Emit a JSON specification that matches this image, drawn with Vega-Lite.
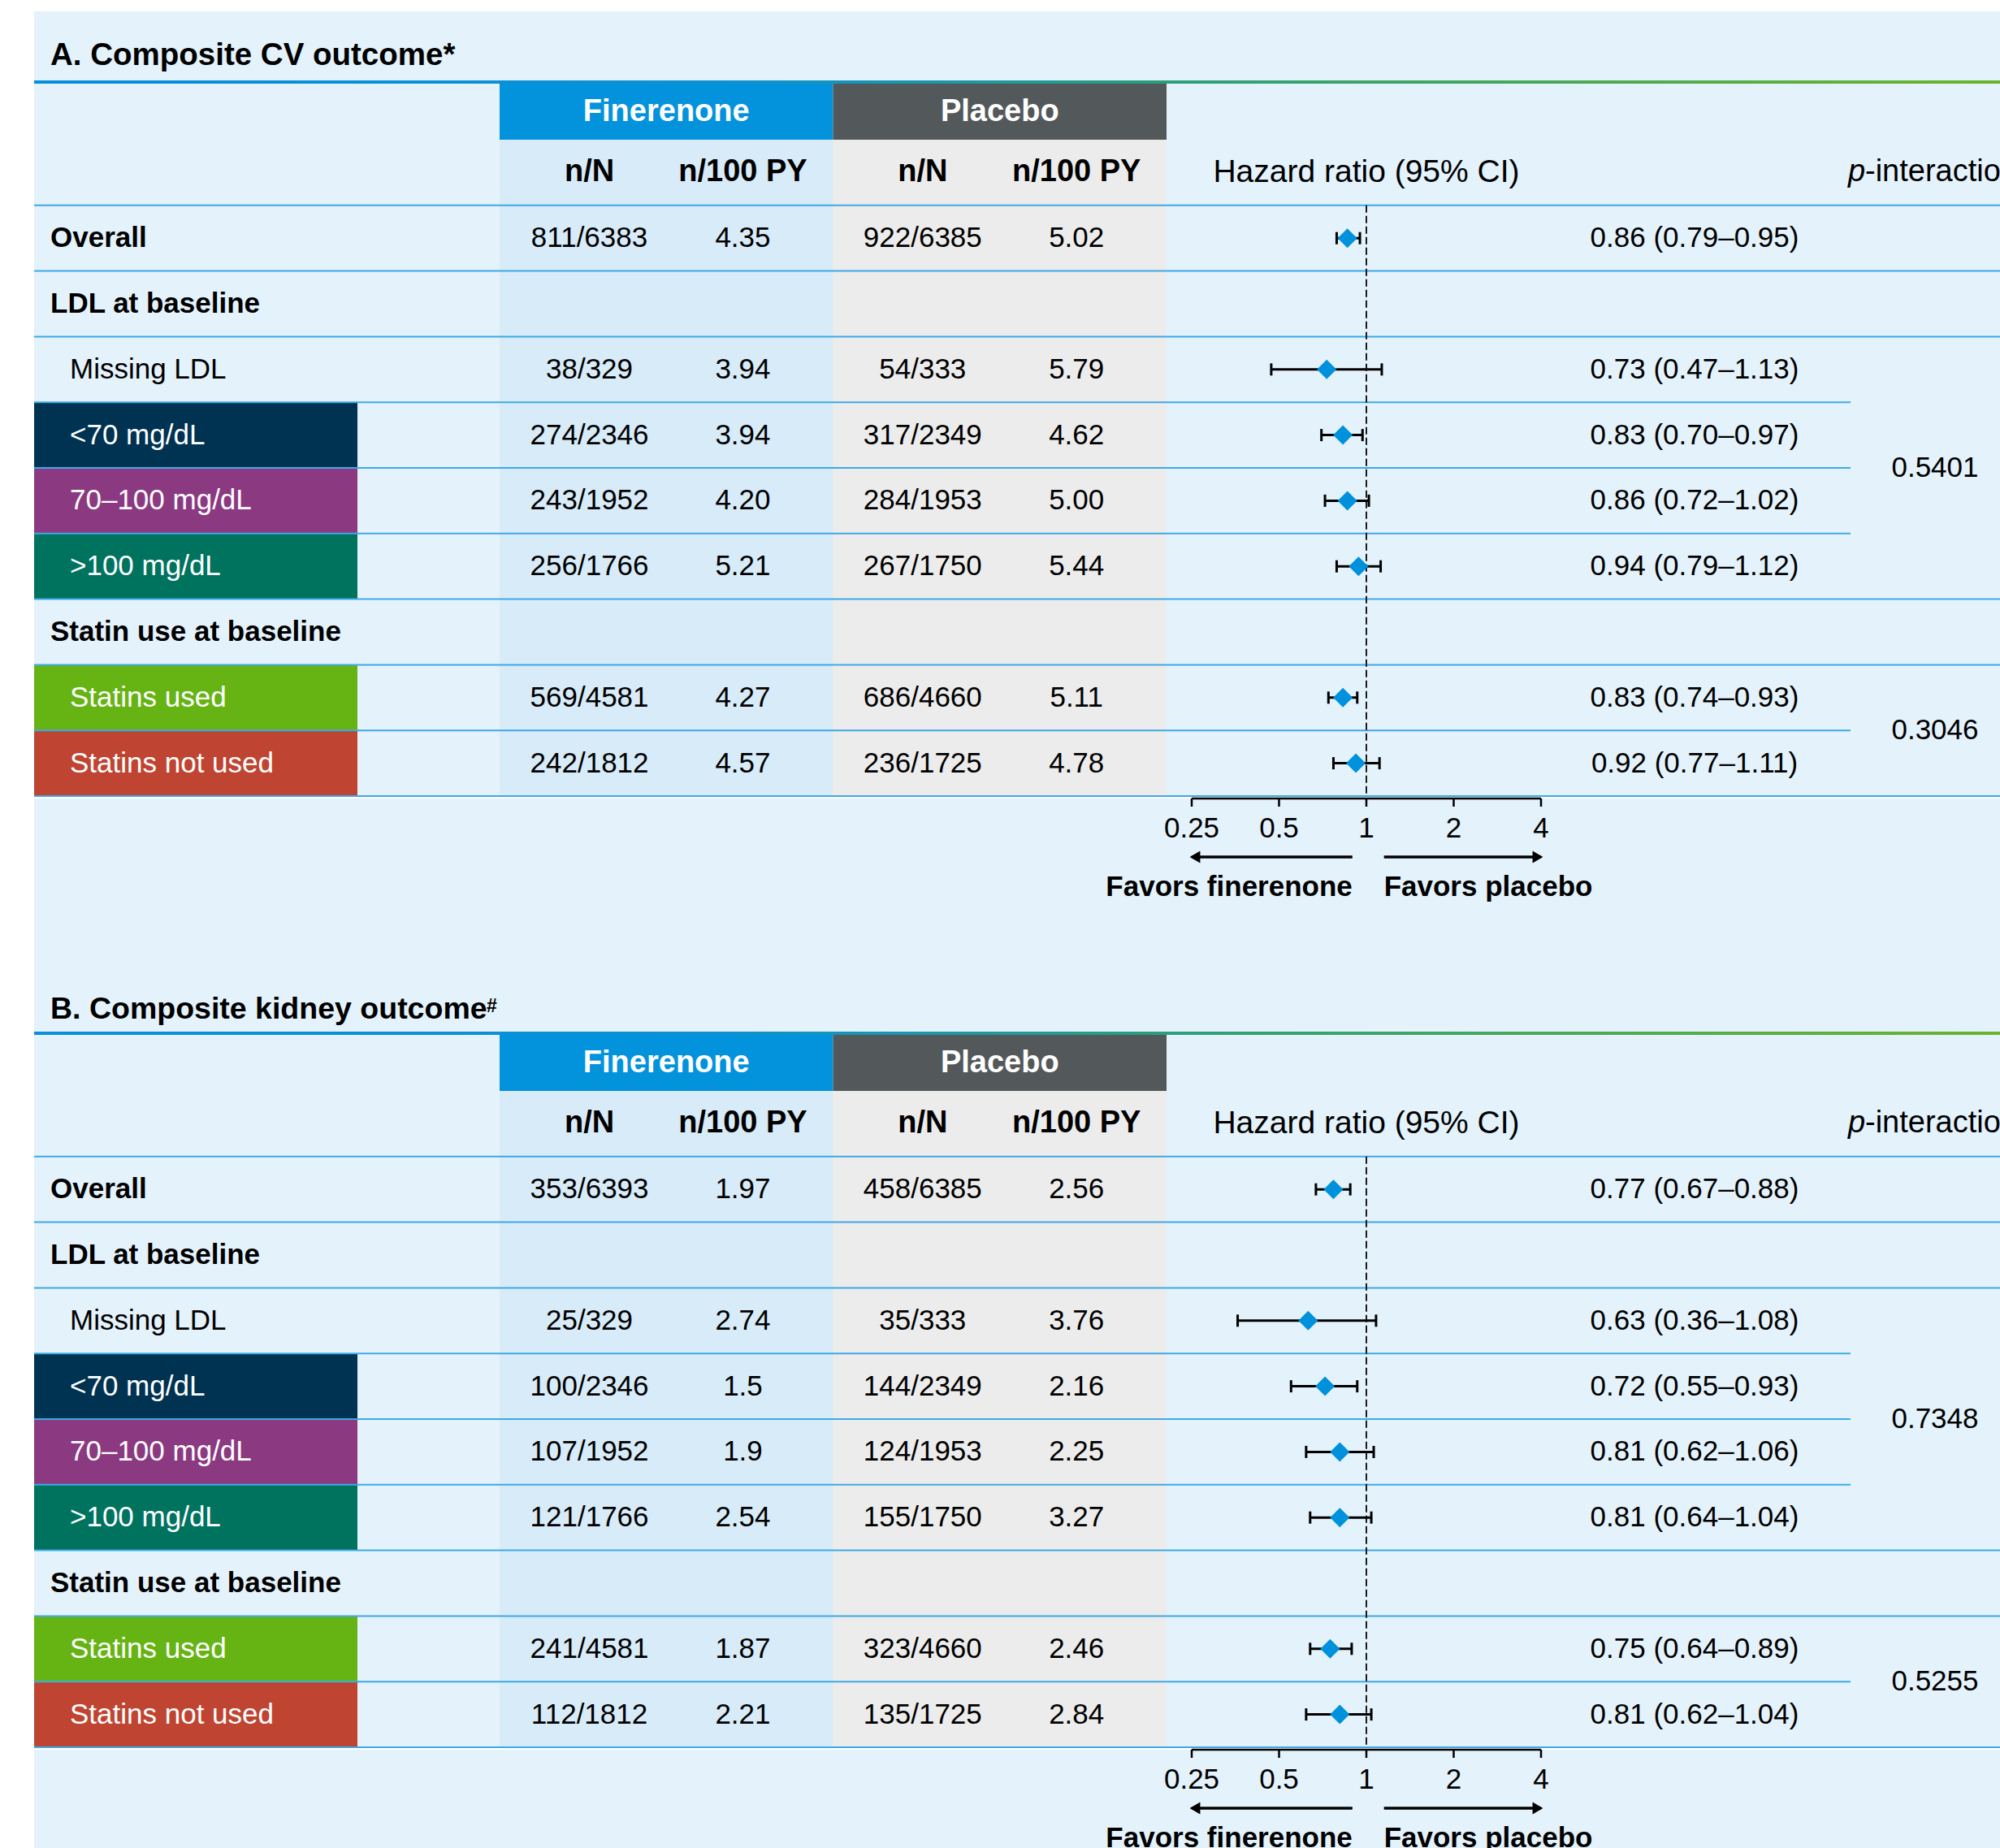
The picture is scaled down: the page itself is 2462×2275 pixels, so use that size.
{
  "$schema": "https://vega.github.io/schema/vega-lite/v6.json",
  "background": "#ffffff",
  "padding": {"left": 41, "top": 14, "right": 0, "bottom": 0},
  "spacing": 0,
  "resolve": {"scale": {"color": "independent"}},
  "config": {
    "view": {"stroke": null, "fill": "#e4f2fb"},
    "font": "Liberation Sans",
    "text": {"font": "Liberation Sans", "fontSize": 35, "baseline": "middle", "color": "#000000"},
    "axis": {"labelFont": "Liberation Sans"}
  },
  "datasets": {
    "rows": [
      {"panel": "A", "row": "header", "level": "header"},
      {"panel": "A", "row": "Overall", "level": "group", "fin_n": "811/6383", "fin_py": "4.35", "pla_n": "922/6385", "pla_py": "5.02", "hr": 0.86, "lo": 0.79, "hi": 0.95},
      {"panel": "A", "row": "LDL at baseline", "level": "group"},
      {"panel": "A", "row": "Missing LDL", "level": "sub", "fin_n": "38/329", "fin_py": "3.94", "pla_n": "54/333", "pla_py": "5.79", "hr": 0.73, "lo": 0.47, "hi": 1.13},
      {"panel": "A", "row": "<70 mg/dL", "level": "sub", "fin_n": "274/2346", "fin_py": "3.94", "pla_n": "317/2349", "pla_py": "4.62", "hr": 0.83, "lo": 0.70, "hi": 0.97},
      {"panel": "A", "row": "70–100 mg/dL", "level": "sub", "fin_n": "243/1952", "fin_py": "4.20", "pla_n": "284/1953", "pla_py": "5.00", "hr": 0.86, "lo": 0.72, "hi": 1.02},
      {"panel": "A", "row": ">100 mg/dL", "level": "sub", "fin_n": "256/1766", "fin_py": "5.21", "pla_n": "267/1750", "pla_py": "5.44", "hr": 0.94, "lo": 0.79, "hi": 1.12},
      {"panel": "A", "row": "Statin use at baseline", "level": "group"},
      {"panel": "A", "row": "Statins used", "level": "sub", "fin_n": "569/4581", "fin_py": "4.27", "pla_n": "686/4660", "pla_py": "5.11", "hr": 0.83, "lo": 0.74, "hi": 0.93},
      {"panel": "A", "row": "Statins not used", "level": "sub", "fin_n": "242/1812", "fin_py": "4.57", "pla_n": "236/1725", "pla_py": "4.78", "hr": 0.92, "lo": 0.77, "hi": 1.11},
      {"panel": "B", "row": "header", "level": "header"},
      {"panel": "B", "row": "Overall", "level": "group", "fin_n": "353/6393", "fin_py": "1.97", "pla_n": "458/6385", "pla_py": "2.56", "hr": 0.77, "lo": 0.67, "hi": 0.88},
      {"panel": "B", "row": "LDL at baseline", "level": "group"},
      {"panel": "B", "row": "Missing LDL", "level": "sub", "fin_n": "25/329", "fin_py": "2.74", "pla_n": "35/333", "pla_py": "3.76", "hr": 0.63, "lo": 0.36, "hi": 1.08},
      {"panel": "B", "row": "<70 mg/dL", "level": "sub", "fin_n": "100/2346", "fin_py": "1.5", "pla_n": "144/2349", "pla_py": "2.16", "hr": 0.72, "lo": 0.55, "hi": 0.93},
      {"panel": "B", "row": "70–100 mg/dL", "level": "sub", "fin_n": "107/1952", "fin_py": "1.9", "pla_n": "124/1953", "pla_py": "2.25", "hr": 0.81, "lo": 0.62, "hi": 1.06},
      {"panel": "B", "row": ">100 mg/dL", "level": "sub", "fin_n": "121/1766", "fin_py": "2.54", "pla_n": "155/1750", "pla_py": "3.27", "hr": 0.81, "lo": 0.64, "hi": 1.04},
      {"panel": "B", "row": "Statin use at baseline", "level": "group"},
      {"panel": "B", "row": "Statins used", "level": "sub", "fin_n": "241/4581", "fin_py": "1.87", "pla_n": "323/4660", "pla_py": "2.46", "hr": 0.75, "lo": 0.64, "hi": 0.89},
      {"panel": "B", "row": "Statins not used", "level": "sub", "fin_n": "112/1812", "fin_py": "2.21", "pla_n": "135/1725", "pla_py": "2.84", "hr": 0.81, "lo": 0.62, "hi": 1.04}
    ],
    "pvals": [
      {"panel": "A", "at": "70–100 mg/dL", "p": "0.5401"},
      {"panel": "A", "at": "Statins not used", "p": "0.3046"},
      {"panel": "B", "at": "70–100 mg/dL", "p": "0.7348"},
      {"panel": "B", "at": "Statins not used", "p": "0.5255"}
    ],
    "titles": [
      {"panel": "A", "title": "A. Composite CV outcome*", "note": ""},
      {"panel": "B", "title": "B. Composite kidney outcome", "note": "#"}
    ],
    "stats": [{"stat": "n/N"}, {"stat": "n/100 PY"}],
    "heads": [
      {"key": "hr", "text": "Hazard ratio (95% CI)"},
      {"key": "p1", "text": "p"},
      {"key": "p2", "text": "-interaction"}
    ],
    "arms": [{"arm": "Finerenone"}, {"arm": "Placebo"}],
    "arrows": [
      {"side": "finerenone", "from": 0.895, "to": 0.25, "label": "Favors finerenone"},
      {"side": "placebo", "from": 1.15, "to": 4, "label": "Favors placebo"}
    ],
    "ticks": [
      {"v": 0.25, "t": "0.25"},
      {"v": 0.5, "t": "0.5"},
      {"v": 1, "t": "1"},
      {"v": 2, "t": "2"},
      {"v": 4, "t": "4"}
    ],
    "ref": [{"hr": 1}]
  },
  "vconcat": [
    {
      "width": 2444, "height": 85,
      "data": {"name": "titles"},
      "transform": [{"filter": "datum.panel === 'A'"}],
      "mark": {"type": "text", "align": "left", "baseline": "alphabetic", "fontSize": 38.5, "fontWeight": "bold", "dy": 23.5},
      "encoding": {
        "x": {"datum": "group", "type": "nominal", "scale": {"type": "point", "domain": ["group", "sub"], "range": [20, 44], "padding": 0}, "axis": null},
        "text": {"field": "title"}
      }
    },
    {
      "width": 2444, "height": 4,
      "data": {"values": [{}]},
      "mark": {"type": "rect", "fill": {"gradient": "linear", "x1": 0, "x2": 1, "y1": 0, "y2": 0, "stops": [{"offset": 0, "color": "#078fdc"}, {"offset": 0.35, "color": "#0e91d0"}, {"offset": 0.56, "color": "#2a9e7e"}, {"offset": 1, "color": "#6bb52a"}]}}
    },
    {
      "width": 2444, "height": 69,
      "data": {"name": "arms"},
      "layer": [
        {"transform": [{"filter": "datum.arm === 'Finerenone'"}], "mark": {"type": "rect", "fill": "#0392dc"}, "encoding": {"x": {"field": "arm", "type": "nominal", "scale": {"type": "band", "domain": ["Finerenone", "Placebo"], "range": [573, 1394], "paddingInner": 0, "paddingOuter": 0}, "axis": null}}},
        {"transform": [{"filter": "datum.arm === 'Placebo'"}], "mark": {"type": "rect", "fill": "#53585b"}, "encoding": {"x": {"field": "arm", "type": "nominal", "scale": {"type": "band", "domain": ["Finerenone", "Placebo"], "range": [573, 1394], "paddingInner": 0, "paddingOuter": 0}, "axis": null}}},
        {"mark": {"type": "text", "fontWeight": "bold", "fontSize": 38, "color": "#ffffff"}, "encoding": {"x": {"field": "arm", "type": "nominal", "scale": {"type": "band", "domain": ["Finerenone", "Placebo"], "range": [573, 1394], "paddingInner": 0, "paddingOuter": 0}, "axis": null}, "text": {"field": "arm"}}}
      ]
    },
    {
      "spacing": 0, "bounds": "flush",
      "resolve": {"scale": {"color": "independent"}},
      "hconcat": [
        {
          "width": 398, "height": 808,
          "layer": [
            {"data": {"name": "rows"}, "transform": [{"filter": "datum.panel === 'A'"}, {"filter": {"field": "row", "oneOf": ["<70 mg/dL", "70–100 mg/dL", ">100 mg/dL", "Statins used", "Statins not used"]}}], "mark": {"type": "rect"}, "encoding": {"y": {"field": "row", "type": "nominal", "scale": {"type": "band", "domain": ["header", "Overall", "LDL at baseline", "Missing LDL", "<70 mg/dL", "70–100 mg/dL", ">100 mg/dL", "Statin use at baseline", "Statins used", "Statins not used"], "paddingInner": 0, "paddingOuter": 0}, "axis": null}, "color": {"field": "row", "type": "nominal", "scale": {"domain": ["<70 mg/dL", "70–100 mg/dL", ">100 mg/dL", "Statins used", "Statins not used"], "range": ["#003351", "#8b3a81", "#00735f", "#66b414", "#bf4431"]}, "legend": null}}},
            {"data": {"name": "rows"}, "transform": [{"filter": "datum.panel === 'A'"}], "mark": {"type": "rule", "color": "#3ea9e5", "strokeWidth": 2}, "encoding": {"y": {"field": "row", "type": "nominal", "bandPosition": 1, "scale": {"type": "band", "domain": ["header", "Overall", "LDL at baseline", "Missing LDL", "<70 mg/dL", "70–100 mg/dL", ">100 mg/dL", "Statin use at baseline", "Statins used", "Statins not used"], "paddingInner": 0, "paddingOuter": 0}, "axis": null}}},
            {"data": {"name": "rows"}, "transform": [{"filter": "datum.panel === 'A' && datum.level === 'group'"}], "mark": {"type": "text", "align": "left", "fontWeight": "bold"}, "encoding": {"x": {"field": "level", "type": "nominal", "scale": {"type": "point", "domain": ["group", "sub"], "range": [20, 44], "padding": 0}, "axis": null}, "y": {"field": "row", "type": "nominal", "scale": {"type": "band", "domain": ["header", "Overall", "LDL at baseline", "Missing LDL", "<70 mg/dL", "70–100 mg/dL", ">100 mg/dL", "Statin use at baseline", "Statins used", "Statins not used"], "paddingInner": 0, "paddingOuter": 0}, "axis": null}, "text": {"field": "row"}}},
            {"data": {"name": "rows"}, "transform": [{"filter": "datum.panel === 'A' && datum.level === 'sub'"}], "mark": {"type": "text", "align": "left"}, "encoding": {"x": {"field": "level", "type": "nominal", "scale": {"type": "point", "domain": ["group", "sub"], "range": [20, 44], "padding": 0}, "axis": null}, "y": {"field": "row", "type": "nominal", "scale": {"type": "band", "domain": ["header", "Overall", "LDL at baseline", "Missing LDL", "<70 mg/dL", "70–100 mg/dL", ">100 mg/dL", "Statin use at baseline", "Statins used", "Statins not used"], "paddingInner": 0, "paddingOuter": 0}, "axis": null}, "text": {"field": "row"}, "color": {"condition": {"test": "datum.row === 'Missing LDL'", "value": "#000000"}, "value": "#ffffff"}}}
          ]
        },
        {
          "width": 175, "height": 808,
          "data": {"name": "rows"}, "transform": [{"filter": "datum.panel === 'A'"}],
          "mark": {"type": "rule", "color": "#3ea9e5", "strokeWidth": 2},
          "encoding": {"y": {"field": "row", "type": "nominal", "bandPosition": 1, "scale": {"type": "band", "domain": ["header", "Overall", "LDL at baseline", "Missing LDL", "<70 mg/dL", "70–100 mg/dL", ">100 mg/dL", "Statin use at baseline", "Statins used", "Statins not used"], "paddingInner": 0, "paddingOuter": 0}, "axis": null}}
        },
        {
          "width": 410, "height": 808, "view": {"fill": "#d8ebf8"},
          "layer": [
            {"data": {"name": "rows"}, "transform": [{"filter": "datum.panel === 'A'"}], "mark": {"type": "rule", "color": "#3ea9e5", "strokeWidth": 2}, "encoding": {"y": {"field": "row", "type": "nominal", "bandPosition": 1, "scale": {"type": "band", "domain": ["header", "Overall", "LDL at baseline", "Missing LDL", "<70 mg/dL", "70–100 mg/dL", ">100 mg/dL", "Statin use at baseline", "Statins used", "Statins not used"], "paddingInner": 0, "paddingOuter": 0}, "axis": null}}},
            {"data": {"name": "stats"}, "mark": {"type": "text", "fontWeight": "bold", "fontSize": 38}, "encoding": {"x": {"field": "stat", "type": "nominal", "scale": {"type": "point", "domain": ["n/N", "n/100 PY"], "padding": 0.585}, "axis": null}, "y": {"datum": "header", "type": "nominal", "scale": {"type": "band", "domain": ["header", "Overall", "LDL at baseline", "Missing LDL", "<70 mg/dL", "70–100 mg/dL", ">100 mg/dL", "Statin use at baseline", "Statins used", "Statins not used"], "paddingInner": 0, "paddingOuter": 0}, "axis": null}, "text": {"field": "stat"}}},
            {"data": {"name": "rows"}, "transform": [{"filter": "datum.panel === 'A' && isValid(datum.fin_n)"}], "mark": {"type": "text"}, "encoding": {"x": {"datum": "n/N", "type": "nominal", "scale": {"type": "point", "domain": ["n/N", "n/100 PY"], "padding": 0.585}, "axis": null}, "y": {"field": "row", "type": "nominal", "scale": {"type": "band", "domain": ["header", "Overall", "LDL at baseline", "Missing LDL", "<70 mg/dL", "70–100 mg/dL", ">100 mg/dL", "Statin use at baseline", "Statins used", "Statins not used"], "paddingInner": 0, "paddingOuter": 0}, "axis": null}, "text": {"field": "fin_n"}}},
            {"data": {"name": "rows"}, "transform": [{"filter": "datum.panel === 'A' && isValid(datum.fin_py)"}], "mark": {"type": "text"}, "encoding": {"x": {"datum": "n/100 PY", "type": "nominal", "scale": {"type": "point", "domain": ["n/N", "n/100 PY"], "padding": 0.585}, "axis": null}, "y": {"field": "row", "type": "nominal", "scale": {"type": "band", "domain": ["header", "Overall", "LDL at baseline", "Missing LDL", "<70 mg/dL", "70–100 mg/dL", ">100 mg/dL", "Statin use at baseline", "Statins used", "Statins not used"], "paddingInner": 0, "paddingOuter": 0}, "axis": null}, "text": {"field": "fin_py"}}}
          ]
        },
        {
          "width": 411, "height": 808, "view": {"fill": "#ececec"},
          "layer": [
            {"data": {"name": "rows"}, "transform": [{"filter": "datum.panel === 'A'"}], "mark": {"type": "rule", "color": "#3ea9e5", "strokeWidth": 2}, "encoding": {"y": {"field": "row", "type": "nominal", "bandPosition": 1, "scale": {"type": "band", "domain": ["header", "Overall", "LDL at baseline", "Missing LDL", "<70 mg/dL", "70–100 mg/dL", ">100 mg/dL", "Statin use at baseline", "Statins used", "Statins not used"], "paddingInner": 0, "paddingOuter": 0}, "axis": null}}},
            {"data": {"name": "stats"}, "mark": {"type": "text", "fontWeight": "bold", "fontSize": 38}, "encoding": {"x": {"field": "stat", "type": "nominal", "scale": {"type": "point", "domain": ["n/N", "n/100 PY"], "padding": 0.585}, "axis": null}, "y": {"datum": "header", "type": "nominal", "scale": {"type": "band", "domain": ["header", "Overall", "LDL at baseline", "Missing LDL", "<70 mg/dL", "70–100 mg/dL", ">100 mg/dL", "Statin use at baseline", "Statins used", "Statins not used"], "paddingInner": 0, "paddingOuter": 0}, "axis": null}, "text": {"field": "stat"}}},
            {"data": {"name": "rows"}, "transform": [{"filter": "datum.panel === 'A' && isValid(datum.pla_n)"}], "mark": {"type": "text"}, "encoding": {"x": {"datum": "n/N", "type": "nominal", "scale": {"type": "point", "domain": ["n/N", "n/100 PY"], "padding": 0.585}, "axis": null}, "y": {"field": "row", "type": "nominal", "scale": {"type": "band", "domain": ["header", "Overall", "LDL at baseline", "Missing LDL", "<70 mg/dL", "70–100 mg/dL", ">100 mg/dL", "Statin use at baseline", "Statins used", "Statins not used"], "paddingInner": 0, "paddingOuter": 0}, "axis": null}, "text": {"field": "pla_n"}}},
            {"data": {"name": "rows"}, "transform": [{"filter": "datum.panel === 'A' && isValid(datum.pla_py)"}], "mark": {"type": "text"}, "encoding": {"x": {"datum": "n/100 PY", "type": "nominal", "scale": {"type": "point", "domain": ["n/N", "n/100 PY"], "padding": 0.585}, "axis": null}, "y": {"field": "row", "type": "nominal", "scale": {"type": "band", "domain": ["header", "Overall", "LDL at baseline", "Missing LDL", "<70 mg/dL", "70–100 mg/dL", ">100 mg/dL", "Statin use at baseline", "Statins used", "Statins not used"], "paddingInner": 0, "paddingOuter": 0}, "axis": null}, "text": {"field": "pla_py"}}}
          ]
        },
        {
          "width": 458, "height": 808,
          "layer": [
            {"data": {"name": "rows"}, "transform": [{"filter": "datum.panel === 'A'"}], "mark": {"type": "rule", "color": "#3ea9e5", "strokeWidth": 2}, "encoding": {"y": {"field": "row", "type": "nominal", "bandPosition": 1, "scale": {"type": "band", "domain": ["header", "Overall", "LDL at baseline", "Missing LDL", "<70 mg/dL", "70–100 mg/dL", ">100 mg/dL", "Statin use at baseline", "Statins used", "Statins not used"], "paddingInner": 0, "paddingOuter": 0}, "axis": null}}},
            {"data": {"name": "ref"}, "mark": {"type": "rule", "strokeDash": [9, 4], "strokeWidth": 2, "color": "#1a1a1a"}, "encoding": {"x": {"field": "hr", "type": "quantitative", "scale": {"type": "log", "domain": [0.25, 4], "range": [31, 461], "nice": false}, "axis": null}, "y": {"datum": "Overall", "type": "nominal", "bandPosition": 0, "scale": {"type": "band", "domain": ["header", "Overall", "LDL at baseline", "Missing LDL", "<70 mg/dL", "70–100 mg/dL", ">100 mg/dL", "Statin use at baseline", "Statins used", "Statins not used"], "paddingInner": 0, "paddingOuter": 0}, "axis": null}, "y2": {"datum": "Statins not used", "bandPosition": 1}}},
            {"data": {"name": "rows"}, "transform": [{"filter": "datum.panel === 'A' && isValid(datum.hr)"}], "mark": {"type": "rule", "strokeWidth": 3, "color": "#000000"}, "encoding": {"x": {"field": "lo", "type": "quantitative", "scale": {"type": "log", "domain": [0.25, 4], "range": [31, 461], "nice": false}, "axis": null}, "x2": {"field": "hi"}, "y": {"field": "row", "type": "nominal", "scale": {"type": "band", "domain": ["header", "Overall", "LDL at baseline", "Missing LDL", "<70 mg/dL", "70–100 mg/dL", ">100 mg/dL", "Statin use at baseline", "Statins used", "Statins not used"], "paddingInner": 0, "paddingOuter": 0}, "axis": null}}},
            {"data": {"name": "rows"}, "transform": [{"filter": "datum.panel === 'A' && isValid(datum.hr)"}], "mark": {"type": "tick", "thickness": 3, "size": 15, "color": "#000000", "opacity": 1}, "encoding": {"x": {"field": "lo", "type": "quantitative", "scale": {"type": "log", "domain": [0.25, 4], "range": [31, 461], "nice": false}, "axis": null}, "y": {"field": "row", "type": "nominal", "scale": {"type": "band", "domain": ["header", "Overall", "LDL at baseline", "Missing LDL", "<70 mg/dL", "70–100 mg/dL", ">100 mg/dL", "Statin use at baseline", "Statins used", "Statins not used"], "paddingInner": 0, "paddingOuter": 0}, "axis": null}}},
            {"data": {"name": "rows"}, "transform": [{"filter": "datum.panel === 'A' && isValid(datum.hr)"}], "mark": {"type": "tick", "thickness": 3, "size": 15, "color": "#000000", "opacity": 1}, "encoding": {"x": {"field": "hi", "type": "quantitative", "scale": {"type": "log", "domain": [0.25, 4], "range": [31, 461], "nice": false}, "axis": null}, "y": {"field": "row", "type": "nominal", "scale": {"type": "band", "domain": ["header", "Overall", "LDL at baseline", "Missing LDL", "<70 mg/dL", "70–100 mg/dL", ">100 mg/dL", "Statin use at baseline", "Statins used", "Statins not used"], "paddingInner": 0, "paddingOuter": 0}, "axis": null}}},
            {"data": {"name": "rows"}, "transform": [{"filter": "datum.panel === 'A' && isValid(datum.hr)"}], "mark": {"type": "point", "shape": "diamond", "filled": true, "size": 576, "color": "#0091dc", "opacity": 1, "strokeWidth": 0}, "encoding": {"x": {"field": "hr", "type": "quantitative", "scale": {"type": "log", "domain": [0.25, 4], "range": [31, 461], "nice": false}, "axis": null}, "y": {"field": "row", "type": "nominal", "scale": {"type": "band", "domain": ["header", "Overall", "LDL at baseline", "Missing LDL", "<70 mg/dL", "70–100 mg/dL", ">100 mg/dL", "Statin use at baseline", "Statins used", "Statins not used"], "paddingInner": 0, "paddingOuter": 0}, "axis": null}}},
            {"data": {"name": "heads"}, "transform": [{"filter": "datum.key === 'hr'"}], "mark": {"type": "text", "fontSize": 39}, "encoding": {"x": {"datum": 1, "type": "quantitative", "scale": {"type": "log", "domain": [0.25, 4], "range": [31, 461], "nice": false}, "axis": null}, "y": {"datum": "header", "type": "nominal", "scale": {"type": "band", "domain": ["header", "Overall", "LDL at baseline", "Missing LDL", "<70 mg/dL", "70–100 mg/dL", ">100 mg/dL", "Statin use at baseline", "Statins used", "Statins not used"], "paddingInner": 0, "paddingOuter": 0}, "axis": null}, "text": {"field": "text"}}}
          ]
        },
        {
          "width": 384, "height": 808,
          "layer": [
            {"data": {"name": "rows"}, "transform": [{"filter": "datum.panel === 'A'"}], "mark": {"type": "rule", "color": "#3ea9e5", "strokeWidth": 2}, "encoding": {"y": {"field": "row", "type": "nominal", "bandPosition": 1, "scale": {"type": "band", "domain": ["header", "Overall", "LDL at baseline", "Missing LDL", "<70 mg/dL", "70–100 mg/dL", ">100 mg/dL", "Statin use at baseline", "Statins used", "Statins not used"], "paddingInner": 0, "paddingOuter": 0}, "axis": null}}},
            {"data": {"name": "rows"}, "transform": [{"filter": "datum.panel === 'A' && isValid(datum.hr)"}, {"calculate": "format(datum.hr, '.2f') + ' (' + format(datum.lo, '.2f') + '–' + format(datum.hi, '.2f') + ')'", "as": "hrlab"}], "mark": {"type": "text"}, "encoding": {"y": {"field": "row", "type": "nominal", "scale": {"type": "band", "domain": ["header", "Overall", "LDL at baseline", "Missing LDL", "<70 mg/dL", "70–100 mg/dL", ">100 mg/dL", "Statin use at baseline", "Statins used", "Statins not used"], "paddingInner": 0, "paddingOuter": 0}, "axis": null}, "text": {"field": "hrlab"}}}
          ]
        },
        {
          "width": 208, "height": 808,
          "layer": [
            {"data": {"name": "rows"}, "transform": [{"filter": "datum.panel === 'A' && (datum.level !== 'sub' || datum.row === '>100 mg/dL' || datum.row === 'Statins not used')"}], "mark": {"type": "rule", "color": "#3ea9e5", "strokeWidth": 2}, "encoding": {"y": {"field": "row", "type": "nominal", "bandPosition": 1, "scale": {"type": "band", "domain": ["header", "Overall", "LDL at baseline", "Missing LDL", "<70 mg/dL", "70–100 mg/dL", ">100 mg/dL", "Statin use at baseline", "Statins used", "Statins not used"], "paddingInner": 0, "paddingOuter": 0}, "axis": null}}},
            {"data": {"name": "pvals"}, "transform": [{"filter": "datum.panel === 'A'"}], "mark": {"type": "text"}, "encoding": {"y": {"field": "at", "type": "nominal", "bandPosition": 0, "scale": {"type": "band", "domain": ["header", "Overall", "LDL at baseline", "Missing LDL", "<70 mg/dL", "70–100 mg/dL", ">100 mg/dL", "Statin use at baseline", "Statins used", "Statins not used"], "paddingInner": 0, "paddingOuter": 0}, "axis": null}, "text": {"field": "p"}}},
            {"data": {"name": "heads"}, "transform": [{"filter": "datum.key === 'p1'"}], "mark": {"type": "text", "fontSize": 38, "fontStyle": "italic", "align": "left", "dx": -107}, "encoding": {"y": {"datum": "header", "type": "nominal", "scale": {"type": "band", "domain": ["header", "Overall", "LDL at baseline", "Missing LDL", "<70 mg/dL", "70–100 mg/dL", ">100 mg/dL", "Statin use at baseline", "Statins used", "Statins not used"], "paddingInner": 0, "paddingOuter": 0}, "axis": null}, "text": {"field": "text"}}},
            {"data": {"name": "heads"}, "transform": [{"filter": "datum.key === 'p2'"}], "mark": {"type": "text", "fontSize": 38, "align": "left", "dx": -86}, "encoding": {"y": {"datum": "header", "type": "nominal", "scale": {"type": "band", "domain": ["header", "Overall", "LDL at baseline", "Missing LDL", "<70 mg/dL", "70–100 mg/dL", ">100 mg/dL", "Statin use at baseline", "Statins used", "Statins not used"], "paddingInner": 0, "paddingOuter": 0}, "axis": null}, "text": {"field": "text"}}}
          ]
        }
      ]
    },
    {
      "width": 2444, "height": 144,
      "layer": [
        {"data": {"name": "ticks"}, "mark": {"type": "rule", "strokeWidth": 2.5, "color": "#000000", "yOffset": -72}, "encoding": {"x": {"aggregate": "min", "field": "v", "type": "quantitative", "scale": {"type": "log", "domain": [0.25, 4], "range": [1425, 1855], "nice": false}, "axis": null}, "x2": {"aggregate": "max", "field": "v"}}},
        {"data": {"name": "ticks"}, "mark": {"type": "tick", "orient": "vertical", "size": 10, "thickness": 2.5, "color": "#000000", "opacity": 1, "yOffset": -67}, "encoding": {"x": {"field": "v", "type": "quantitative", "scale": {"type": "log", "domain": [0.25, 4], "range": [1425, 1855], "nice": false}, "axis": null}}},
        {"data": {"name": "ticks"}, "mark": {"type": "text", "baseline": "alphabetic", "dy": -24}, "encoding": {"x": {"field": "v", "type": "quantitative", "scale": {"type": "log", "domain": [0.25, 4], "range": [1425, 1855], "nice": false}, "axis": null}, "text": {"field": "t"}}},
        {"data": {"name": "arrows"}, "mark": {"type": "rule", "strokeWidth": 3.5, "color": "#000000"}, "encoding": {"x": {"field": "from", "type": "quantitative", "scale": {"type": "log", "domain": [0.25, 4], "range": [1425, 1855], "nice": false}, "axis": null}, "x2": {"field": "to"}}},
        {"data": {"name": "arrows"}, "transform": [{"filter": "datum.side === 'finerenone'"}], "mark": {"type": "point", "shape": "triangle-left", "filled": true, "size": 220, "color": "#000000", "opacity": 1, "xOffset": 4}, "encoding": {"x": {"field": "to", "type": "quantitative", "scale": {"type": "log", "domain": [0.25, 4], "range": [1425, 1855], "nice": false}, "axis": null}}},
        {"data": {"name": "arrows"}, "transform": [{"filter": "datum.side === 'placebo'"}], "mark": {"type": "point", "shape": "triangle-right", "filled": true, "size": 220, "color": "#000000", "opacity": 1, "xOffset": -4}, "encoding": {"x": {"field": "to", "type": "quantitative", "scale": {"type": "log", "domain": [0.25, 4], "range": [1425, 1855], "nice": false}, "axis": null}}},
        {"data": {"name": "arrows"}, "transform": [{"filter": "datum.side === 'finerenone'"}], "mark": {"type": "text", "align": "right", "fontWeight": "bold", "dy": 37}, "encoding": {"x": {"field": "from", "type": "quantitative", "scale": {"type": "log", "domain": [0.25, 4], "range": [1425, 1855], "nice": false}, "axis": null}, "text": {"field": "label"}}},
        {"data": {"name": "arrows"}, "transform": [{"filter": "datum.side === 'placebo'"}], "mark": {"type": "text", "align": "left", "fontWeight": "bold", "dy": 37}, "encoding": {"x": {"field": "from", "type": "quantitative", "scale": {"type": "log", "domain": [0.25, 4], "range": [1425, 1855], "nice": false}, "axis": null}, "text": {"field": "label"}}}
      ]
    },
    {
      "width": 2444, "height": 143,
      "data": {"name": "titles"},
      "transform": [{"filter": "datum.panel === 'B'"}],
      "layer": [
        {"mark": {"type": "text", "align": "left", "baseline": "alphabetic", "fontSize": 37.5, "fontWeight": "bold", "dy": 55.5}, "encoding": {"x": {"datum": "group", "type": "nominal", "scale": {"type": "point", "domain": ["group", "sub"], "range": [20, 44], "padding": 0}, "axis": null}, "text": {"field": "title"}}},
        {"mark": {"type": "text", "align": "left", "baseline": "alphabetic", "fontSize": 23, "fontWeight": "bold", "dx": 537, "dy": 47}, "encoding": {"x": {"datum": "group", "type": "nominal", "scale": {"type": "point", "domain": ["group", "sub"], "range": [20, 44], "padding": 0}, "axis": null}, "text": {"field": "note"}}}
      ]
    },
    {
      "width": 2444, "height": 4,
      "data": {"values": [{}]},
      "mark": {"type": "rect", "fill": {"gradient": "linear", "x1": 0, "x2": 1, "y1": 0, "y2": 0, "stops": [{"offset": 0, "color": "#078fdc"}, {"offset": 0.35, "color": "#0e91d0"}, {"offset": 0.56, "color": "#2a9e7e"}, {"offset": 1, "color": "#6bb52a"}]}}
    },
    {
      "width": 2444, "height": 69,
      "data": {"name": "arms"},
      "layer": [
        {"transform": [{"filter": "datum.arm === 'Finerenone'"}], "mark": {"type": "rect", "fill": "#0392dc"}, "encoding": {"x": {"field": "arm", "type": "nominal", "scale": {"type": "band", "domain": ["Finerenone", "Placebo"], "range": [573, 1394], "paddingInner": 0, "paddingOuter": 0}, "axis": null}}},
        {"transform": [{"filter": "datum.arm === 'Placebo'"}], "mark": {"type": "rect", "fill": "#53585b"}, "encoding": {"x": {"field": "arm", "type": "nominal", "scale": {"type": "band", "domain": ["Finerenone", "Placebo"], "range": [573, 1394], "paddingInner": 0, "paddingOuter": 0}, "axis": null}}},
        {"mark": {"type": "text", "fontWeight": "bold", "fontSize": 38, "color": "#ffffff"}, "encoding": {"x": {"field": "arm", "type": "nominal", "scale": {"type": "band", "domain": ["Finerenone", "Placebo"], "range": [573, 1394], "paddingInner": 0, "paddingOuter": 0}, "axis": null}, "text": {"field": "arm"}}}
      ]
    },
    {
      "spacing": 0, "bounds": "flush",
      "resolve": {"scale": {"color": "independent"}},
      "hconcat": [
        {
          "width": 398, "height": 808,
          "layer": [
            {"data": {"name": "rows"}, "transform": [{"filter": "datum.panel === 'B'"}, {"filter": {"field": "row", "oneOf": ["<70 mg/dL", "70–100 mg/dL", ">100 mg/dL", "Statins used", "Statins not used"]}}], "mark": {"type": "rect"}, "encoding": {"y": {"field": "row", "type": "nominal", "scale": {"type": "band", "domain": ["header", "Overall", "LDL at baseline", "Missing LDL", "<70 mg/dL", "70–100 mg/dL", ">100 mg/dL", "Statin use at baseline", "Statins used", "Statins not used"], "paddingInner": 0, "paddingOuter": 0}, "axis": null}, "color": {"field": "row", "type": "nominal", "scale": {"domain": ["<70 mg/dL", "70–100 mg/dL", ">100 mg/dL", "Statins used", "Statins not used"], "range": ["#003351", "#8b3a81", "#00735f", "#66b414", "#bf4431"]}, "legend": null}}},
            {"data": {"name": "rows"}, "transform": [{"filter": "datum.panel === 'B'"}], "mark": {"type": "rule", "color": "#3ea9e5", "strokeWidth": 2}, "encoding": {"y": {"field": "row", "type": "nominal", "bandPosition": 1, "scale": {"type": "band", "domain": ["header", "Overall", "LDL at baseline", "Missing LDL", "<70 mg/dL", "70–100 mg/dL", ">100 mg/dL", "Statin use at baseline", "Statins used", "Statins not used"], "paddingInner": 0, "paddingOuter": 0}, "axis": null}}},
            {"data": {"name": "rows"}, "transform": [{"filter": "datum.panel === 'B' && datum.level === 'group'"}], "mark": {"type": "text", "align": "left", "fontWeight": "bold"}, "encoding": {"x": {"field": "level", "type": "nominal", "scale": {"type": "point", "domain": ["group", "sub"], "range": [20, 44], "padding": 0}, "axis": null}, "y": {"field": "row", "type": "nominal", "scale": {"type": "band", "domain": ["header", "Overall", "LDL at baseline", "Missing LDL", "<70 mg/dL", "70–100 mg/dL", ">100 mg/dL", "Statin use at baseline", "Statins used", "Statins not used"], "paddingInner": 0, "paddingOuter": 0}, "axis": null}, "text": {"field": "row"}}},
            {"data": {"name": "rows"}, "transform": [{"filter": "datum.panel === 'B' && datum.level === 'sub'"}], "mark": {"type": "text", "align": "left"}, "encoding": {"x": {"field": "level", "type": "nominal", "scale": {"type": "point", "domain": ["group", "sub"], "range": [20, 44], "padding": 0}, "axis": null}, "y": {"field": "row", "type": "nominal", "scale": {"type": "band", "domain": ["header", "Overall", "LDL at baseline", "Missing LDL", "<70 mg/dL", "70–100 mg/dL", ">100 mg/dL", "Statin use at baseline", "Statins used", "Statins not used"], "paddingInner": 0, "paddingOuter": 0}, "axis": null}, "text": {"field": "row"}, "color": {"condition": {"test": "datum.row === 'Missing LDL'", "value": "#000000"}, "value": "#ffffff"}}}
          ]
        },
        {
          "width": 175, "height": 808,
          "data": {"name": "rows"}, "transform": [{"filter": "datum.panel === 'B'"}],
          "mark": {"type": "rule", "color": "#3ea9e5", "strokeWidth": 2},
          "encoding": {"y": {"field": "row", "type": "nominal", "bandPosition": 1, "scale": {"type": "band", "domain": ["header", "Overall", "LDL at baseline", "Missing LDL", "<70 mg/dL", "70–100 mg/dL", ">100 mg/dL", "Statin use at baseline", "Statins used", "Statins not used"], "paddingInner": 0, "paddingOuter": 0}, "axis": null}}
        },
        {
          "width": 410, "height": 808, "view": {"fill": "#d8ebf8"},
          "layer": [
            {"data": {"name": "rows"}, "transform": [{"filter": "datum.panel === 'B'"}], "mark": {"type": "rule", "color": "#3ea9e5", "strokeWidth": 2}, "encoding": {"y": {"field": "row", "type": "nominal", "bandPosition": 1, "scale": {"type": "band", "domain": ["header", "Overall", "LDL at baseline", "Missing LDL", "<70 mg/dL", "70–100 mg/dL", ">100 mg/dL", "Statin use at baseline", "Statins used", "Statins not used"], "paddingInner": 0, "paddingOuter": 0}, "axis": null}}},
            {"data": {"name": "stats"}, "mark": {"type": "text", "fontWeight": "bold", "fontSize": 38}, "encoding": {"x": {"field": "stat", "type": "nominal", "scale": {"type": "point", "domain": ["n/N", "n/100 PY"], "padding": 0.585}, "axis": null}, "y": {"datum": "header", "type": "nominal", "scale": {"type": "band", "domain": ["header", "Overall", "LDL at baseline", "Missing LDL", "<70 mg/dL", "70–100 mg/dL", ">100 mg/dL", "Statin use at baseline", "Statins used", "Statins not used"], "paddingInner": 0, "paddingOuter": 0}, "axis": null}, "text": {"field": "stat"}}},
            {"data": {"name": "rows"}, "transform": [{"filter": "datum.panel === 'B' && isValid(datum.fin_n)"}], "mark": {"type": "text"}, "encoding": {"x": {"datum": "n/N", "type": "nominal", "scale": {"type": "point", "domain": ["n/N", "n/100 PY"], "padding": 0.585}, "axis": null}, "y": {"field": "row", "type": "nominal", "scale": {"type": "band", "domain": ["header", "Overall", "LDL at baseline", "Missing LDL", "<70 mg/dL", "70–100 mg/dL", ">100 mg/dL", "Statin use at baseline", "Statins used", "Statins not used"], "paddingInner": 0, "paddingOuter": 0}, "axis": null}, "text": {"field": "fin_n"}}},
            {"data": {"name": "rows"}, "transform": [{"filter": "datum.panel === 'B' && isValid(datum.fin_py)"}], "mark": {"type": "text"}, "encoding": {"x": {"datum": "n/100 PY", "type": "nominal", "scale": {"type": "point", "domain": ["n/N", "n/100 PY"], "padding": 0.585}, "axis": null}, "y": {"field": "row", "type": "nominal", "scale": {"type": "band", "domain": ["header", "Overall", "LDL at baseline", "Missing LDL", "<70 mg/dL", "70–100 mg/dL", ">100 mg/dL", "Statin use at baseline", "Statins used", "Statins not used"], "paddingInner": 0, "paddingOuter": 0}, "axis": null}, "text": {"field": "fin_py"}}}
          ]
        },
        {
          "width": 411, "height": 808, "view": {"fill": "#ececec"},
          "layer": [
            {"data": {"name": "rows"}, "transform": [{"filter": "datum.panel === 'B'"}], "mark": {"type": "rule", "color": "#3ea9e5", "strokeWidth": 2}, "encoding": {"y": {"field": "row", "type": "nominal", "bandPosition": 1, "scale": {"type": "band", "domain": ["header", "Overall", "LDL at baseline", "Missing LDL", "<70 mg/dL", "70–100 mg/dL", ">100 mg/dL", "Statin use at baseline", "Statins used", "Statins not used"], "paddingInner": 0, "paddingOuter": 0}, "axis": null}}},
            {"data": {"name": "stats"}, "mark": {"type": "text", "fontWeight": "bold", "fontSize": 38}, "encoding": {"x": {"field": "stat", "type": "nominal", "scale": {"type": "point", "domain": ["n/N", "n/100 PY"], "padding": 0.585}, "axis": null}, "y": {"datum": "header", "type": "nominal", "scale": {"type": "band", "domain": ["header", "Overall", "LDL at baseline", "Missing LDL", "<70 mg/dL", "70–100 mg/dL", ">100 mg/dL", "Statin use at baseline", "Statins used", "Statins not used"], "paddingInner": 0, "paddingOuter": 0}, "axis": null}, "text": {"field": "stat"}}},
            {"data": {"name": "rows"}, "transform": [{"filter": "datum.panel === 'B' && isValid(datum.pla_n)"}], "mark": {"type": "text"}, "encoding": {"x": {"datum": "n/N", "type": "nominal", "scale": {"type": "point", "domain": ["n/N", "n/100 PY"], "padding": 0.585}, "axis": null}, "y": {"field": "row", "type": "nominal", "scale": {"type": "band", "domain": ["header", "Overall", "LDL at baseline", "Missing LDL", "<70 mg/dL", "70–100 mg/dL", ">100 mg/dL", "Statin use at baseline", "Statins used", "Statins not used"], "paddingInner": 0, "paddingOuter": 0}, "axis": null}, "text": {"field": "pla_n"}}},
            {"data": {"name": "rows"}, "transform": [{"filter": "datum.panel === 'B' && isValid(datum.pla_py)"}], "mark": {"type": "text"}, "encoding": {"x": {"datum": "n/100 PY", "type": "nominal", "scale": {"type": "point", "domain": ["n/N", "n/100 PY"], "padding": 0.585}, "axis": null}, "y": {"field": "row", "type": "nominal", "scale": {"type": "band", "domain": ["header", "Overall", "LDL at baseline", "Missing LDL", "<70 mg/dL", "70–100 mg/dL", ">100 mg/dL", "Statin use at baseline", "Statins used", "Statins not used"], "paddingInner": 0, "paddingOuter": 0}, "axis": null}, "text": {"field": "pla_py"}}}
          ]
        },
        {
          "width": 458, "height": 808,
          "layer": [
            {"data": {"name": "rows"}, "transform": [{"filter": "datum.panel === 'B'"}], "mark": {"type": "rule", "color": "#3ea9e5", "strokeWidth": 2}, "encoding": {"y": {"field": "row", "type": "nominal", "bandPosition": 1, "scale": {"type": "band", "domain": ["header", "Overall", "LDL at baseline", "Missing LDL", "<70 mg/dL", "70–100 mg/dL", ">100 mg/dL", "Statin use at baseline", "Statins used", "Statins not used"], "paddingInner": 0, "paddingOuter": 0}, "axis": null}}},
            {"data": {"name": "ref"}, "mark": {"type": "rule", "strokeDash": [9, 4], "strokeWidth": 2, "color": "#1a1a1a"}, "encoding": {"x": {"field": "hr", "type": "quantitative", "scale": {"type": "log", "domain": [0.25, 4], "range": [31, 461], "nice": false}, "axis": null}, "y": {"datum": "Overall", "type": "nominal", "bandPosition": 0, "scale": {"type": "band", "domain": ["header", "Overall", "LDL at baseline", "Missing LDL", "<70 mg/dL", "70–100 mg/dL", ">100 mg/dL", "Statin use at baseline", "Statins used", "Statins not used"], "paddingInner": 0, "paddingOuter": 0}, "axis": null}, "y2": {"datum": "Statins not used", "bandPosition": 1}}},
            {"data": {"name": "rows"}, "transform": [{"filter": "datum.panel === 'B' && isValid(datum.hr)"}], "mark": {"type": "rule", "strokeWidth": 3, "color": "#000000"}, "encoding": {"x": {"field": "lo", "type": "quantitative", "scale": {"type": "log", "domain": [0.25, 4], "range": [31, 461], "nice": false}, "axis": null}, "x2": {"field": "hi"}, "y": {"field": "row", "type": "nominal", "scale": {"type": "band", "domain": ["header", "Overall", "LDL at baseline", "Missing LDL", "<70 mg/dL", "70–100 mg/dL", ">100 mg/dL", "Statin use at baseline", "Statins used", "Statins not used"], "paddingInner": 0, "paddingOuter": 0}, "axis": null}}},
            {"data": {"name": "rows"}, "transform": [{"filter": "datum.panel === 'B' && isValid(datum.hr)"}], "mark": {"type": "tick", "thickness": 3, "size": 15, "color": "#000000", "opacity": 1}, "encoding": {"x": {"field": "lo", "type": "quantitative", "scale": {"type": "log", "domain": [0.25, 4], "range": [31, 461], "nice": false}, "axis": null}, "y": {"field": "row", "type": "nominal", "scale": {"type": "band", "domain": ["header", "Overall", "LDL at baseline", "Missing LDL", "<70 mg/dL", "70–100 mg/dL", ">100 mg/dL", "Statin use at baseline", "Statins used", "Statins not used"], "paddingInner": 0, "paddingOuter": 0}, "axis": null}}},
            {"data": {"name": "rows"}, "transform": [{"filter": "datum.panel === 'B' && isValid(datum.hr)"}], "mark": {"type": "tick", "thickness": 3, "size": 15, "color": "#000000", "opacity": 1}, "encoding": {"x": {"field": "hi", "type": "quantitative", "scale": {"type": "log", "domain": [0.25, 4], "range": [31, 461], "nice": false}, "axis": null}, "y": {"field": "row", "type": "nominal", "scale": {"type": "band", "domain": ["header", "Overall", "LDL at baseline", "Missing LDL", "<70 mg/dL", "70–100 mg/dL", ">100 mg/dL", "Statin use at baseline", "Statins used", "Statins not used"], "paddingInner": 0, "paddingOuter": 0}, "axis": null}}},
            {"data": {"name": "rows"}, "transform": [{"filter": "datum.panel === 'B' && isValid(datum.hr)"}], "mark": {"type": "point", "shape": "diamond", "filled": true, "size": 576, "color": "#0091dc", "opacity": 1, "strokeWidth": 0}, "encoding": {"x": {"field": "hr", "type": "quantitative", "scale": {"type": "log", "domain": [0.25, 4], "range": [31, 461], "nice": false}, "axis": null}, "y": {"field": "row", "type": "nominal", "scale": {"type": "band", "domain": ["header", "Overall", "LDL at baseline", "Missing LDL", "<70 mg/dL", "70–100 mg/dL", ">100 mg/dL", "Statin use at baseline", "Statins used", "Statins not used"], "paddingInner": 0, "paddingOuter": 0}, "axis": null}}},
            {"data": {"name": "heads"}, "transform": [{"filter": "datum.key === 'hr'"}], "mark": {"type": "text", "fontSize": 39}, "encoding": {"x": {"datum": 1, "type": "quantitative", "scale": {"type": "log", "domain": [0.25, 4], "range": [31, 461], "nice": false}, "axis": null}, "y": {"datum": "header", "type": "nominal", "scale": {"type": "band", "domain": ["header", "Overall", "LDL at baseline", "Missing LDL", "<70 mg/dL", "70–100 mg/dL", ">100 mg/dL", "Statin use at baseline", "Statins used", "Statins not used"], "paddingInner": 0, "paddingOuter": 0}, "axis": null}, "text": {"field": "text"}}}
          ]
        },
        {
          "width": 384, "height": 808,
          "layer": [
            {"data": {"name": "rows"}, "transform": [{"filter": "datum.panel === 'B'"}], "mark": {"type": "rule", "color": "#3ea9e5", "strokeWidth": 2}, "encoding": {"y": {"field": "row", "type": "nominal", "bandPosition": 1, "scale": {"type": "band", "domain": ["header", "Overall", "LDL at baseline", "Missing LDL", "<70 mg/dL", "70–100 mg/dL", ">100 mg/dL", "Statin use at baseline", "Statins used", "Statins not used"], "paddingInner": 0, "paddingOuter": 0}, "axis": null}}},
            {"data": {"name": "rows"}, "transform": [{"filter": "datum.panel === 'B' && isValid(datum.hr)"}, {"calculate": "format(datum.hr, '.2f') + ' (' + format(datum.lo, '.2f') + '–' + format(datum.hi, '.2f') + ')'", "as": "hrlab"}], "mark": {"type": "text"}, "encoding": {"y": {"field": "row", "type": "nominal", "scale": {"type": "band", "domain": ["header", "Overall", "LDL at baseline", "Missing LDL", "<70 mg/dL", "70–100 mg/dL", ">100 mg/dL", "Statin use at baseline", "Statins used", "Statins not used"], "paddingInner": 0, "paddingOuter": 0}, "axis": null}, "text": {"field": "hrlab"}}}
          ]
        },
        {
          "width": 208, "height": 808,
          "layer": [
            {"data": {"name": "rows"}, "transform": [{"filter": "datum.panel === 'B' && (datum.level !== 'sub' || datum.row === '>100 mg/dL' || datum.row === 'Statins not used')"}], "mark": {"type": "rule", "color": "#3ea9e5", "strokeWidth": 2}, "encoding": {"y": {"field": "row", "type": "nominal", "bandPosition": 1, "scale": {"type": "band", "domain": ["header", "Overall", "LDL at baseline", "Missing LDL", "<70 mg/dL", "70–100 mg/dL", ">100 mg/dL", "Statin use at baseline", "Statins used", "Statins not used"], "paddingInner": 0, "paddingOuter": 0}, "axis": null}}},
            {"data": {"name": "pvals"}, "transform": [{"filter": "datum.panel === 'B'"}], "mark": {"type": "text"}, "encoding": {"y": {"field": "at", "type": "nominal", "bandPosition": 0, "scale": {"type": "band", "domain": ["header", "Overall", "LDL at baseline", "Missing LDL", "<70 mg/dL", "70–100 mg/dL", ">100 mg/dL", "Statin use at baseline", "Statins used", "Statins not used"], "paddingInner": 0, "paddingOuter": 0}, "axis": null}, "text": {"field": "p"}}},
            {"data": {"name": "heads"}, "transform": [{"filter": "datum.key === 'p1'"}], "mark": {"type": "text", "fontSize": 38, "fontStyle": "italic", "align": "left", "dx": -107}, "encoding": {"y": {"datum": "header", "type": "nominal", "scale": {"type": "band", "domain": ["header", "Overall", "LDL at baseline", "Missing LDL", "<70 mg/dL", "70–100 mg/dL", ">100 mg/dL", "Statin use at baseline", "Statins used", "Statins not used"], "paddingInner": 0, "paddingOuter": 0}, "axis": null}, "text": {"field": "text"}}},
            {"data": {"name": "heads"}, "transform": [{"filter": "datum.key === 'p2'"}], "mark": {"type": "text", "fontSize": 38, "align": "left", "dx": -86}, "encoding": {"y": {"datum": "header", "type": "nominal", "scale": {"type": "band", "domain": ["header", "Overall", "LDL at baseline", "Missing LDL", "<70 mg/dL", "70–100 mg/dL", ">100 mg/dL", "Statin use at baseline", "Statins used", "Statins not used"], "paddingInner": 0, "paddingOuter": 0}, "axis": null}, "text": {"field": "text"}}}
          ]
        }
      ]
    },
    {
      "width": 2444, "height": 144,
      "layer": [
        {"data": {"name": "ticks"}, "mark": {"type": "rule", "strokeWidth": 2.5, "color": "#000000", "yOffset": -72}, "encoding": {"x": {"aggregate": "min", "field": "v", "type": "quantitative", "scale": {"type": "log", "domain": [0.25, 4], "range": [1425, 1855], "nice": false}, "axis": null}, "x2": {"aggregate": "max", "field": "v"}}},
        {"data": {"name": "ticks"}, "mark": {"type": "tick", "orient": "vertical", "size": 10, "thickness": 2.5, "color": "#000000", "opacity": 1, "yOffset": -67}, "encoding": {"x": {"field": "v", "type": "quantitative", "scale": {"type": "log", "domain": [0.25, 4], "range": [1425, 1855], "nice": false}, "axis": null}}},
        {"data": {"name": "ticks"}, "mark": {"type": "text", "baseline": "alphabetic", "dy": -24}, "encoding": {"x": {"field": "v", "type": "quantitative", "scale": {"type": "log", "domain": [0.25, 4], "range": [1425, 1855], "nice": false}, "axis": null}, "text": {"field": "t"}}},
        {"data": {"name": "arrows"}, "mark": {"type": "rule", "strokeWidth": 3.5, "color": "#000000"}, "encoding": {"x": {"field": "from", "type": "quantitative", "scale": {"type": "log", "domain": [0.25, 4], "range": [1425, 1855], "nice": false}, "axis": null}, "x2": {"field": "to"}}},
        {"data": {"name": "arrows"}, "transform": [{"filter": "datum.side === 'finerenone'"}], "mark": {"type": "point", "shape": "triangle-left", "filled": true, "size": 220, "color": "#000000", "opacity": 1, "xOffset": 4}, "encoding": {"x": {"field": "to", "type": "quantitative", "scale": {"type": "log", "domain": [0.25, 4], "range": [1425, 1855], "nice": false}, "axis": null}}},
        {"data": {"name": "arrows"}, "transform": [{"filter": "datum.side === 'placebo'"}], "mark": {"type": "point", "shape": "triangle-right", "filled": true, "size": 220, "color": "#000000", "opacity": 1, "xOffset": -4}, "encoding": {"x": {"field": "to", "type": "quantitative", "scale": {"type": "log", "domain": [0.25, 4], "range": [1425, 1855], "nice": false}, "axis": null}}},
        {"data": {"name": "arrows"}, "transform": [{"filter": "datum.side === 'finerenone'"}], "mark": {"type": "text", "align": "right", "fontWeight": "bold", "dy": 37}, "encoding": {"x": {"field": "from", "type": "quantitative", "scale": {"type": "log", "domain": [0.25, 4], "range": [1425, 1855], "nice": false}, "axis": null}, "text": {"field": "label"}}},
        {"data": {"name": "arrows"}, "transform": [{"filter": "datum.side === 'placebo'"}], "mark": {"type": "text", "align": "left", "fontWeight": "bold", "dy": 37}, "encoding": {"x": {"field": "from", "type": "quantitative", "scale": {"type": "log", "domain": [0.25, 4], "range": [1425, 1855], "nice": false}, "axis": null}, "text": {"field": "label"}}}
      ]
    }
  ]
}
